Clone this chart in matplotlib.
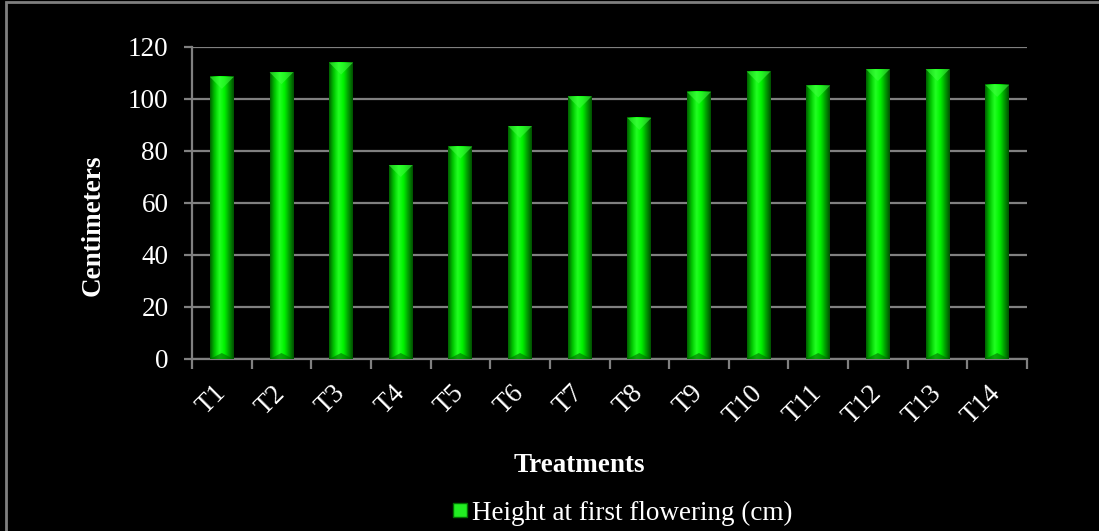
import numpy as np
import matplotlib.pyplot as plt
from matplotlib.colors import LinearSegmentedColormap
from matplotlib.patches import Rectangle, Polygon
from matplotlib.lines import Line2D

treatments = ['T1', 'T2', 'T3', 'T4', 'T5', 'T6', 'T7',
              'T8', 'T9', 'T10', 'T11', 'T12', 'T13', 'T14']
height_cm = [108.5, 110.3, 114.0, 74.6, 81.7, 89.6, 101.0,
             92.7, 102.7, 110.6, 105.2, 111.5, 111.5, 105.4]
yticks = [0, 20, 40, 60, 80, 100, 120]

plt.rcParams['font.family'] = ['Liberation Serif', 'DejaVu Serif']
FS = 19.5

fig = plt.figure(figsize=(10.99, 5.31), dpi=100, facecolor='black')
ax = fig.add_axes([192 / 1099, 1 - 359 / 531, 835 / 1099, 312 / 531])
ax.set_facecolor('black')

# outer frame line (only left/top edges fall inside the canvas)
fig.add_artist(Rectangle((5.5 / 1099, -0.05), 1.2, 1 - 1.5 / 531 + 0.05,
                         transform=fig.transFigure, fill=False,
                         edgecolor='#7f7f7f', linewidth=2))

x = np.arange(len(treatments))
width = 0.4
ax.set_xlim(-0.5, len(treatments) - 0.5)
ax.set_ylim(0, 120)

# cylinder-like shading across each bar
cyl = LinearSegmentedColormap.from_list(
    'cyl', ['#006000', '#00c800', '#22ff22', '#00f400', '#00a000', '#005000'])
grad = np.linspace(0, 1, 64).reshape(1, -1)

for xi, h in zip(x, height_cm):
    x0, x1 = xi - width / 2, xi + width / 2
    ax.imshow(grad, cmap=cyl, aspect='auto', extent=(x0, x1, 0, h),
              interpolation='bilinear', zorder=3)
    # bevelled cap
    cap = 4.6
    ax.add_patch(Polygon([(x0, h), (x1, h), (xi, h - cap)], closed=True,
                         facecolor='#40ff40', edgecolor='none', alpha=0.55, zorder=4))
    ax.add_patch(Polygon([(x0, 0), (x1, 0), (xi, cap * 0.5)], closed=True,
                         facecolor='#007000', edgecolor='none', alpha=0.6, zorder=4))

ax.set_yticks(yticks)
ax.yaxis.grid(True, color='#808080', linewidth=1.6, zorder=0)
ax.set_axisbelow(True)

# ticks at category boundaries, labels centred on bars
ax.set_xticks(np.arange(-0.5, len(treatments)), minor=False)
ax.set_xticklabels([])
ax.set_xticks(x, minor=True)
ax.set_xticklabels(treatments, minor=True, rotation=45, ha='right',
                   va='center', rotation_mode='anchor', color='white',
                   fontsize=FS)
ax.tick_params(axis='x', which='major', length=7, width=1.6, color='#808080',
               direction='out')
ax.tick_params(axis='x', which='minor', length=0, pad=22)
ax.tick_params(axis='y', length=6, width=1.6, color='#808080',
               labelcolor='white', labelsize=FS, pad=11)

for side in ['top', 'right']:
    ax.spines[side].set_visible(False)
for side in ['left', 'bottom']:
    ax.spines[side].set_color('#808080')
    ax.spines[side].set_linewidth(1.6)

fig.text(93 / 1099, 1 - 225 / 531, 'Centimeters', color='white', fontsize=FS,
         fontweight='bold', ha='center', va='center', rotation=90)
fig.text(579 / 1099, 1 - 466 / 531, 'Treatments', color='white', fontsize=FS,
         fontweight='bold', ha='center', va='center')

handle = Line2D([], [], linestyle='none', marker='s', markersize=10,
                markerfacecolor='#22ee22', markeredgecolor='#007000')
leg = fig.legend([handle], ['Height at first flowering (cm)'],
                 loc='center', bbox_to_anchor=(622 / 1099, 1 - 513 / 531),
                 frameon=False, fontsize=FS, handlelength=0.6,
                 handletextpad=0.15, labelcolor='white')

fig.savefig('out.png', dpi=100, facecolor='black')
